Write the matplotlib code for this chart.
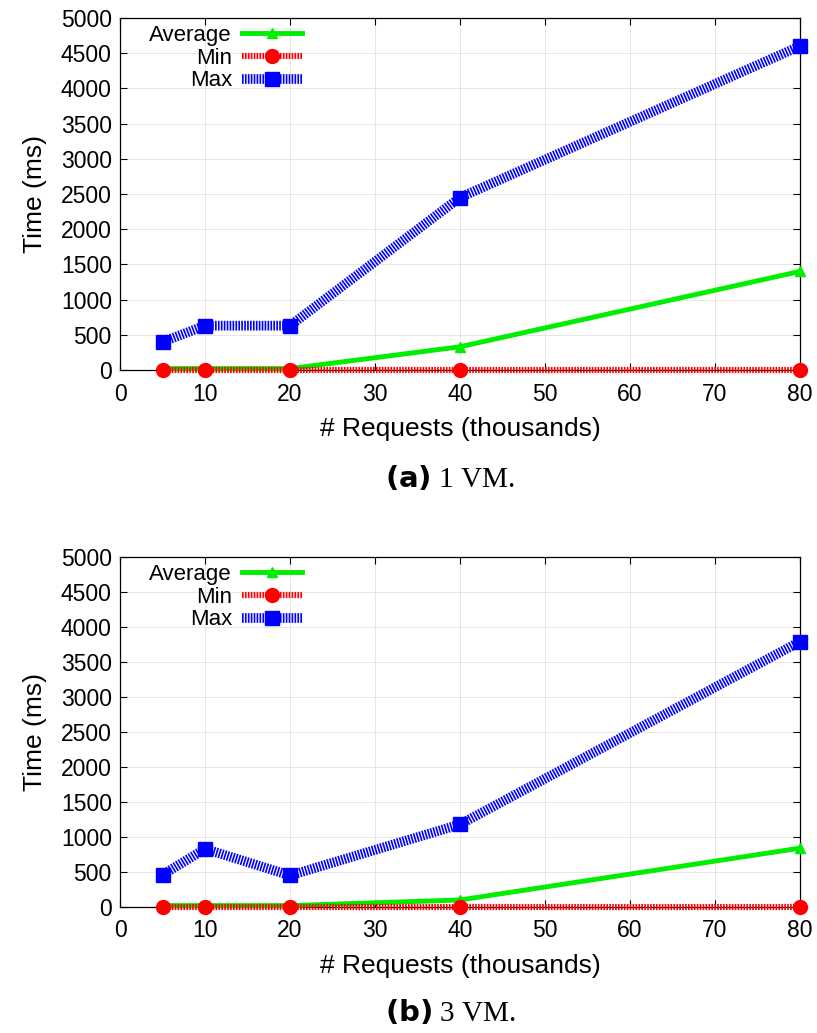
import matplotlib
matplotlib.use("Agg")
from matplotlib import pyplot as plt

# data
requests = [5, 10, 20, 40, 80]

avg_1vm = [20, 20, 20, 330, 1400]
min_1vm = [5, 5, 5, 5, 5]
max_1vm = [400, 630, 630, 2450, 4600]

avg_3vm = [20, 20, 20, 100, 840]
min_3vm = [5, 5, 5, 5, 5]
max_3vm = [460, 830, 450, 1180, 3790]

x_ticks = list(range(0, 81, 10))
y_ticks = list(range(0, 5001, 500))

plt.rcParams["font.family"] = ["Liberation Sans", "DejaVu Sans"]
plt.rcParams["lines.scale_dashes"] = False

fig = plt.figure(figsize=(8.17, 10.33), dpi=100)


def draw(ax, avg, mn, mx):
    ax.plot(requests, avg, color="#00ee00", linewidth=3.5, marker="^",
            markersize=7, label="Average", clip_on=False, zorder=3)
    ax.plot(requests, mn, color="#ff0000", linewidth=4.5, dashes=(1.2, 0.9),
            marker="o", markersize=10, label="Min", clip_on=False, zorder=4)
    ax.plot(requests, mx, color="#0000ff", linewidth=7, dashes=(1.2, 0.9),
            marker="s", markersize=10, label="Max", clip_on=False, zorder=5)
    ax.set_xlim(0, 80)
    ax.set_ylim(0, 5000)
    ax.set_xticks(x_ticks)
    ax.set_yticks(y_ticks)
    ax.tick_params(direction="in", top=True, right=True, labelsize=16.5,
                   length=5, width=0.8)
    ax.tick_params(axis="x", pad=9)
    ax.tick_params(axis="y", pad=6)
    ax.grid(True, color="#e6e6e6", linewidth=0.7)
    ax.set_axisbelow(True)
    for s in ax.spines.values():
        s.set_linewidth(0.9)
    ax.set_xlabel("# Requests (thousands)", fontsize=19, labelpad=8)
    ax.set_ylabel("Time (ms)", fontsize=19, labelpad=10)
    ax.legend(loc="upper left", frameon=False, markerfirst=False, fontsize=16,
              handlelength=2.7, labelspacing=0.08, borderaxespad=0.0,
              bbox_to_anchor=(0.03, 1.006), handletextpad=0.45)


ax1 = fig.add_axes([0.147, 0.6418, 0.832, 0.3408])
draw(ax1, avg_1vm, min_1vm, max_1vm)

ax2 = fig.add_axes([0.147, 0.1220, 0.832, 0.3388])
draw(ax2, avg_3vm, min_3vm, max_3vm)

fig.text(0.551, 1 - 478 / 1033, r"$\mathbf{(a)}$ 1 VM.", ha="center",
         va="center", fontsize=21, family="Liberation Serif")
fig.text(0.551, 1 - 1013 / 1033, r"$\mathbf{(b)}$ 3 VM.", ha="center",
         va="center", fontsize=21, family="Liberation Serif")

plt.savefig("out.png", dpi=100)
